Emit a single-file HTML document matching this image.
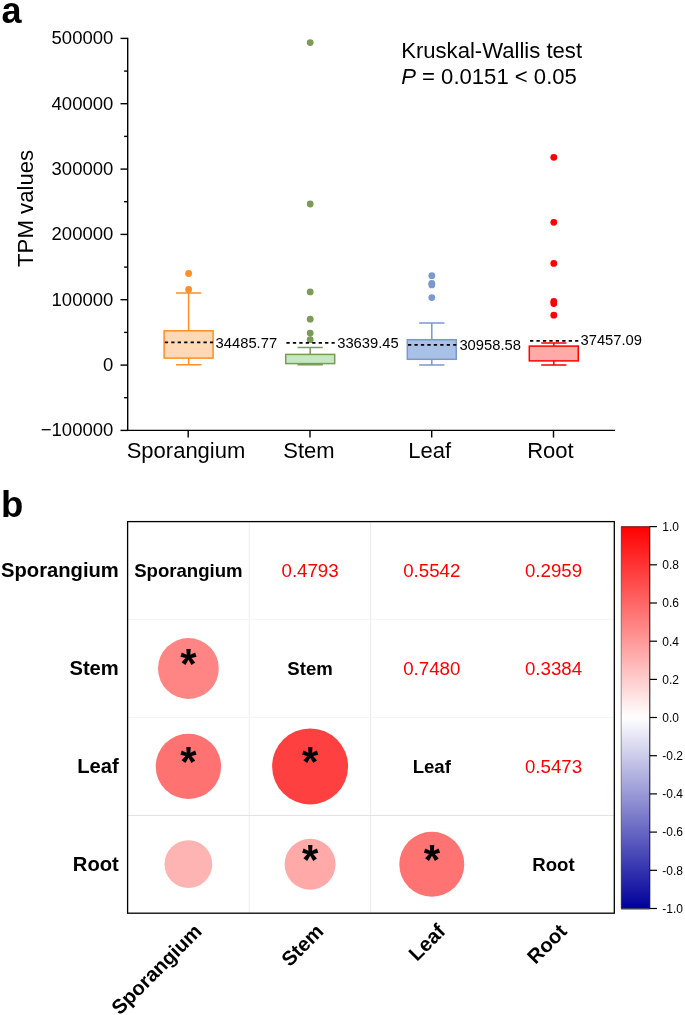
<!DOCTYPE html>
<html><head><meta charset="utf-8"><title>Figure</title>
<style>
html,body{margin:0;padding:0;background:#fff}
body{width:685px;height:1015px;overflow:hidden}
svg{display:block;will-change:transform}
text{font-family:"Liberation Sans",Arial,Helvetica,sans-serif;fill:#000}
.b{font-weight:bold}
.tk{font-size:18.5px;text-anchor:end}
.cat{font-size:22px;text-anchor:middle}
.mv{font-size:14.75px}
.rl{font-size:20.2px;font-weight:bold;text-anchor:end}
.dl{font-size:18.6px;font-weight:bold;text-anchor:middle}
.cv{font-size:18.7px;fill:#ff0000;text-anchor:middle}
.st{font-size:42px;font-weight:bold;text-anchor:middle}
.cb{font-size:12px}
</style></head><body>
<svg width="685" height="1015" viewBox="0 0 685 1015">
<defs><linearGradient id="bwr" x1="0" y1="0" x2="0" y2="1"><stop offset="0" stop-color="#ff0000"/><stop offset="0.5" stop-color="#ffffff"/><stop offset="1" stop-color="#00009b"/></linearGradient></defs>
<rect width="685" height="1015" fill="#fff"/>
<text class="b" x="1.4" y="22.8" font-size="36">a</text>
<text class="b" x="1.0" y="516.6" font-size="36.5">b</text>
<g stroke="#000" stroke-width="1.4" fill="none">
<path d="M127.7 37.70000000000003V430.4H615.0"/>
<path d="M120.5 430.4H127.7"/><path d="M120.5 365.1H127.7"/><path d="M120.5 299.7H127.7"/><path d="M120.5 234.4H127.7"/><path d="M120.5 169.1H127.7"/><path d="M120.5 103.7H127.7"/><path d="M120.5 38.4H127.7"/><path d="M124.10000000000001 397.7H127.7"/><path d="M124.10000000000001 332.4H127.7"/><path d="M124.10000000000001 267.1H127.7"/><path d="M124.10000000000001 201.7H127.7"/><path d="M124.10000000000001 136.4H127.7"/><path d="M124.10000000000001 71.1H127.7"/><path d="M188.2 430.4V437.59999999999997"/><path d="M310.0 430.4V437.59999999999997"/><path d="M431.7 430.4V437.59999999999997"/><path d="M553.5 430.4V437.59999999999997"/>
</g>
<text class="tk" x="113.3" y="436.2">−100000</text>
<text class="tk" x="113.3" y="370.9">0</text>
<text class="tk" x="113.3" y="305.5">100000</text>
<text class="tk" x="113.3" y="240.2">200000</text>
<text class="tk" x="113.3" y="174.9">300000</text>
<text class="tk" x="113.3" y="109.5">400000</text>
<text class="tk" x="113.3" y="44.2">500000</text>
<text font-size="22.2" text-anchor="middle" transform="translate(32.7 208.4) rotate(-90)">TPM values</text>
<text class="cat" x="186.0" y="458.2">Sporangium</text>
<text class="cat" x="309.0" y="458.2">Stem</text>
<text class="cat" x="429.6" y="458.2">Leaf</text>
<text class="cat" x="550.4" y="458.2">Root</text>
<text font-size="22.1" x="401.2" y="57.9">Kruskal-Wallis test</text>
<text font-size="22.1" x="401.2" y="84.2"><tspan font-style="italic">P</tspan> = 0.0151 &lt; 0.05</text>
<g stroke="#ff8f26" stroke-width="1.5" fill="none"><path d="M188.6 330.8V293.1M176.0 293.1H201.2M188.6 358.1V364.8M176.0 364.8H201.2"/><rect x="164.1" y="330.8" width="49" height="27.3" fill="#ffd9b5"/></g>
<g fill="#ff8f26"><circle cx="188.6" cy="273.5" r="3.4"/><circle cx="188.6" cy="289.4" r="3.4"/></g>
<path d="M164.1 342.4H213.1" stroke="#000" stroke-width="1.6" stroke-dasharray="3.3 3.15" stroke-dashoffset="-0.7" fill="none"/>
<text class="mv" x="215.6" y="347.5">34485.77</text>
<g stroke="#7c9a58" stroke-width="1.5" fill="none"><path d="M310.2 354.4V347.4M297.59999999999997 347.4H322.8M310.2 363.6V364.8M297.59999999999997 364.8H322.8"/><rect x="285.7" y="354.4" width="49" height="9.2" fill="#c4e7c4"/></g>
<g fill="#7c9a58"><circle cx="310.2" cy="42.6" r="3.4"/><circle cx="310.2" cy="204.0" r="3.4"/><circle cx="310.2" cy="291.9" r="3.4"/><circle cx="310.2" cy="319.2" r="3.4"/><circle cx="310.2" cy="333.1" r="3.4"/><circle cx="310.2" cy="339.7" r="3.4"/></g>
<path d="M285.7 342.9H334.7" stroke="#000" stroke-width="1.6" stroke-dasharray="3.3 3.15" stroke-dashoffset="-0.7" fill="none"/>
<text class="mv" x="337.2" y="347.5">33639.45</text>
<g stroke="#7b98cf" stroke-width="1.5" fill="none"><path d="M431.8 339.7V322.9M419.2 322.9H444.40000000000003M431.8 359.3V365.0M419.2 365.0H444.40000000000003"/><rect x="407.3" y="339.7" width="49" height="19.6" fill="#a9c1e6"/></g>
<g fill="#7b98cf"><circle cx="431.8" cy="275.7" r="3.4"/><circle cx="431.8" cy="283.3" r="3.4"/><circle cx="431.8" cy="284.9" r="3.4"/><circle cx="431.8" cy="297.6" r="3.4"/></g>
<path d="M407.3 344.9H456.3" stroke="#000" stroke-width="1.6" stroke-dasharray="3.3 3.15" stroke-dashoffset="-0.7" fill="none"/>
<text class="mv" x="459.4" y="349.5">30958.58</text>
<g stroke="#ff0000" stroke-width="1.5" fill="none"><path d="M553.8 346.1V343.0M541.1999999999999 343.0H566.4M553.8 360.9V365.1M541.1999999999999 365.1H566.4"/><rect x="529.3" y="346.1" width="49" height="14.8" fill="#ffa9a9"/></g>
<g fill="#ff0000"><circle cx="553.8" cy="157.3" r="3.4"/><circle cx="553.8" cy="222.3" r="3.4"/><circle cx="553.8" cy="263.4" r="3.4"/><circle cx="553.8" cy="301.3" r="3.4"/><circle cx="553.8" cy="303.6" r="3.4"/><circle cx="553.8" cy="315.2" r="3.4"/></g>
<path d="M529.3 340.9H578.3" stroke="#000" stroke-width="1.6" stroke-dasharray="3.3 3.15" stroke-dashoffset="-0.7" fill="none"/>
<text class="mv" x="580.5" y="345.4">37457.09</text>
<g fill="none" stroke-width="1"><path d="M249.3 522V913" stroke="#efefef"/><path d="M370.6 522V913" stroke="#ececec"/><path d="M128 619.4H614" stroke="#f6f6f6"/><path d="M128 717.4H614" stroke="#f5f5f5"/><path d="M128 815.4H614" stroke="#e1e1e1"/></g>
<rect x="127.6" y="521.6" width="486.7" height="391.6" fill="none" stroke="#000" stroke-width="1.3"/>
<text class="rl" x="118.8" y="577.1">Sporangium</text>
<text class="dl" x="188.4" y="577.2">Sporangium</text>
<text class="rl" x="118.8" y="675.0">Stem</text>
<text class="dl" x="310.1" y="675.1">Stem</text>
<text class="rl" x="118.8" y="772.9">Leaf</text>
<text class="dl" x="431.8" y="773.0">Leaf</text>
<text class="rl" x="118.8" y="870.8">Root</text>
<text class="dl" x="553.5" y="870.9">Root</text>
<text class="cv" x="310.1" y="577.2">0.4793</text>
<circle cx="188.4" cy="668.5" r="30.4" fill="rgb(255,133,133)"/>
<text class="st" x="188.5" y="677.7">*</text>
<text class="cv" x="431.8" y="577.2">0.5542</text>
<circle cx="188.4" cy="766.4" r="32.7" fill="rgb(255,114,114)"/>
<text class="st" x="188.5" y="775.6">*</text>
<text class="cv" x="553.5" y="577.2">0.2959</text>
<circle cx="188.4" cy="864.2" r="23.9" fill="rgb(255,180,180)"/>
<text class="cv" x="431.8" y="675.1">0.7480</text>
<circle cx="310.1" cy="766.4" r="38.0" fill="rgb(255,64,64)"/>
<text class="st" x="310.2" y="775.6">*</text>
<text class="cv" x="553.5" y="675.1">0.3384</text>
<circle cx="310.1" cy="864.2" r="25.5" fill="rgb(255,169,169)"/>
<text class="st" x="310.2" y="873.5">*</text>
<text class="cv" x="553.5" y="773.0">0.5473</text>
<circle cx="431.8" cy="864.2" r="32.5" fill="rgb(255,115,115)"/>
<text class="st" x="431.9" y="873.5">*</text>
<text class="rl" transform="translate(203.0 932.6) rotate(-45)">Sporangium</text>
<text class="rl" transform="translate(324.7 932.6) rotate(-45)">Stem</text>
<text class="rl" transform="translate(446.4 932.6) rotate(-45)">Leaf</text>
<text class="rl" transform="translate(568.1 932.6) rotate(-45)">Root</text>
<rect x="621" y="526.5" width="28.8" height="382" fill="url(#bwr)"/>
<path d="M621 526.7H649.8" fill="none" stroke="#400" stroke-width="0.7"/>
<path d="M649.8 526.4V908.9H621" fill="none" stroke="#111" stroke-width="1"/>
<path d="M621.2 526.5V908.5" fill="none" stroke="#555" stroke-width="0.6"/>
<g stroke="#000" stroke-width="1.2"><path d="M649.8 526.6H657"/><path d="M649.8 564.8H657"/><path d="M649.8 603.0H657"/><path d="M649.8 641.2H657"/><path d="M649.8 679.4H657"/><path d="M649.8 717.5H657"/><path d="M649.8 755.7H657"/><path d="M649.8 793.9H657"/><path d="M649.8 832.1H657"/><path d="M649.8 870.3H657"/><path d="M649.8 908.5H657"/></g>
<text class="cb" x="662.3" y="530.9">1.0</text>
<text class="cb" x="662.3" y="569.1">0.8</text>
<text class="cb" x="662.3" y="607.3">0.6</text>
<text class="cb" x="662.3" y="645.5">0.4</text>
<text class="cb" x="662.3" y="683.7">0.2</text>
<text class="cb" x="662.3" y="721.8">0.0</text>
<text class="cb" x="662.3" y="760.0">-0.2</text>
<text class="cb" x="662.3" y="798.2">-0.4</text>
<text class="cb" x="662.3" y="836.4">-0.6</text>
<text class="cb" x="662.3" y="874.6">-0.8</text>
<text class="cb" x="662.3" y="912.8">-1.0</text>
</svg>
</body></html>
